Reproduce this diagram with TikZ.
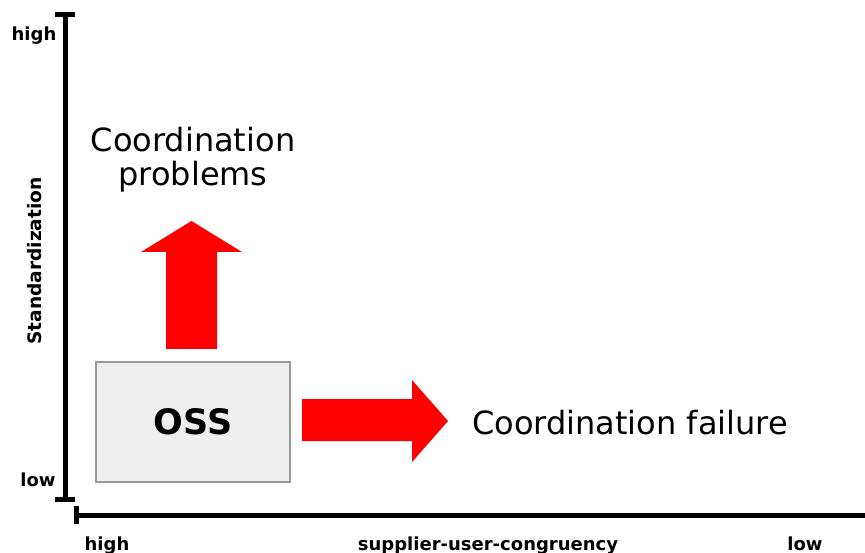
\documentclass[tikz,border=0pt]{standalone}
\usepackage{fontspec}
\setmainfont{DejaVu Sans}
\usepackage{tikz}
\usetikzlibrary{positioning,calc}

\definecolor{boxgray}{HTML}{EFEFEF}
\definecolor{edgegray}{HTML}{999999}
\tikzset{
  axislabel/.style={font=\bfseries\fontsize{18}{20}\selectfont, inner sep=0pt, anchor=base},
  effect/.style={font=\fontsize{32}{34}\selectfont, inner sep=0pt},
  blockarrow/.style={fill=red, draw=none},
}

\begin{document}
\begin{tikzpicture}[x=1pt,y=-1pt]
      \useasboundingbox (0,0) rectangle (865,553);

      % axes
      \coordinate (ytop) at (65,15);
      \coordinate (ybot) at (65,499);
      \coordinate (xleft) at (76,515);
      \coordinate (xright) at (866,515);
      \draw[line width=5pt] (ytop)--(ybot);
      \draw[line width=5pt] ($(ytop)+(-10,0)$)--($(ytop)+(10,0)$);
      \draw[line width=5pt] ($(ybot)+(-10,0)$)--($(ybot)+(10,0)$);
      \draw[line width=5pt] (xleft)--(xright);
      \draw[line width=5pt] ($(xleft)+(0,-9)$)--($(xleft)+(0,9)$);

      \node[axislabel] at (34,41) (yhigh) {high};
      \node[axislabel] at (38,486.5) (ylow) {low};
      \node[axislabel, rotate=90, font=\bfseries\fontsize{18.6}{20}\selectfont] at (41,261) (ytitle) {Standardization};
      \node[axislabel] at (107,550) (xhigh) {high};
      \node[axislabel] at (488,550) (xtitle) {supplier-user-congruency};
      \node[axislabel] at (805,550) (xlow) {low};

      % OSS box
      \node[draw=edgegray, line width=1.2pt, fill=boxgray, minimum width=194pt, minimum height=120pt,
            font=\bfseries\fontsize{35}{38}\selectfont] at (193,422) (oss) {OSS};

      % arrows
      \fill[blockarrow] (166,349)--(166,252)--(141,252)--(191.5,221)--(242,252)--(217,252)--(217,349)--cycle;
      \fill[blockarrow] (302,399)--(412,399)--(412,380)--(448,421)--(412,462)--(412,441)--(302,441)--cycle;

      \node[effect, align=center, anchor=north] at (193,127) (problems) {Coordination\\problems};
      \node[effect, anchor=base west] at (472,434) (failure) {Coordination failure};
    \end{tikzpicture}
\end{document}
